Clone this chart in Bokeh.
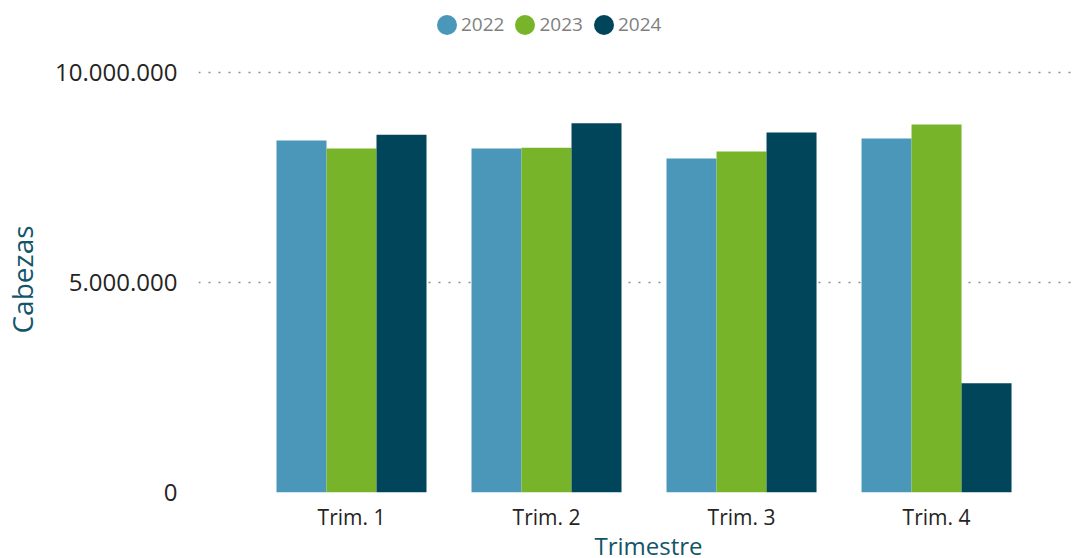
from bokeh.plotting import figure
from bokeh.layouts import column
from bokeh.models import (ColumnDataSource, Range1d, FixedTicker, Legend, LegendItem, Label)
from bokeh.transform import dodge
from bokeh.embed import file_html
from bokeh.resources import INLINE

# ---- data ----
quarters = ["Trim. 1", "Trim. 2", "Trim. 3", "Trim. 4"]
years = ["2022", "2023", "2024"]
v2022 = [8380000, 8190000, 7950000, 8430000]
v2023 = [8190000, 8210000, 8120000, 8760000]
v2024 = [8520000, 8790000, 8570000, 2600000]
y_ticks = [0, 5000000, 10000000]
y_tick_labels = ["0", "5.000.000", "10.000.000"]
x_title = "Trimestre"
y_title = "Cabezas"

colors = ["#4a97ba", "#78b42a", "#01455b"]
FONT = "Open Sans"
TITLE_COLOR = "#135568"

W = 1085
LEG_H, MAIN_H, BOT_H = 50, 484, 24

xs = list(range(len(quarters)))
src = ColumnDataSource(dict(x=xs, y2022=v2022, y2023=v2023, y2024=v2024))


def bare_figure(h):
    f = figure(width=W, height=h, output_backend="svg", toolbar_location=None,
               x_range=Range1d(0, 1), y_range=Range1d(0, 1),
               x_axis_location=None, y_axis_location=None,
               min_border_left=0, min_border_right=0, min_border_top=0,
               min_border_bottom=0)
    f.outline_line_color = None
    f.grid.visible = False
    return f


# ---- legend strip (its own ranges keep the data points out of view) ----
leg_fig = bare_figure(LEG_H)
leg_items = []
for yr, col in zip(years, colors):
    r = leg_fig.ellipse(x="x", y="y" + yr, width=20, height=20,
                        width_units="screen", height_units="screen",
                        source=src, fill_color=col, line_color=None)
    leg_items.append(LegendItem(label=yr, renderers=[r], index=0))
legend = Legend(items=leg_items, location=(236, 13), orientation="horizontal",
                glyph_width=25, glyph_height=25, label_standoff=2, spacing=8,
                padding=0, margin=0, border_line_alpha=0, background_fill_alpha=0,
                label_text_font=FONT, label_text_font_size="19px",
                label_text_color="#7f7f7f")
leg_fig.add_layout(legend, "center")

# ---- main chart ----
p = figure(width=W, height=MAIN_H, output_backend="svg", toolbar_location=None,
           x_range=Range1d(-0.7846, 3.728), y_range=Range1d(0, 10143000),
           min_border_left=198, min_border_right=7, min_border_top=16,
           min_border_bottom=42)
p.outline_line_color = None

bw = 0.2564
offs = [-bw, 0.0, bw]
for yr, col, off in zip(years, colors, offs):
    p.vbar(x=dodge("x", off, range=p.x_range), top="y" + yr, width=bw,
           source=src, fill_color=col, line_color=None)

p.xaxis.ticker = FixedTicker(ticks=xs)
p.xaxis.major_label_overrides = {i: q for i, q in zip(xs, quarters)}
p.yaxis.ticker = FixedTicker(ticks=y_ticks)
p.yaxis.major_label_overrides = {t: l for t, l in zip(y_ticks, y_tick_labels)}

for ax in (p.xaxis, p.yaxis):
    ax.axis_line_color = None
    ax.major_tick_line_color = None
    ax.minor_tick_line_color = None
    ax.major_tick_out = 0
    ax.major_tick_in = 0
    ax.major_label_text_font = FONT
    ax.major_label_text_color = "#252423"
    ax.axis_label_text_font = FONT
    ax.axis_label_text_font_style = "normal"
    ax.axis_label_text_color = TITLE_COLOR

p.yaxis.major_label_text_font_size = "24px"
p.yaxis.major_label_standoff = 21
p.yaxis.axis_label = y_title
p.yaxis.axis_label_text_font_size = "28px"
p.yaxis.axis_label_standoff = 11

p.xaxis.major_label_text_font_size = "21px"
p.xaxis.major_label_standoff = 10

p.xgrid.grid_line_color = None
p.ygrid.ticker = FixedTicker(ticks=y_ticks)
p.ygrid.grid_line_color = "#8c8c8c"
p.ygrid.grid_line_dash = "2 8"
p.ygrid.grid_line_width = 1.5

# ---- x-axis title strip ----
bot_fig = bare_figure(BOT_H)
bot_fig.add_layout(Label(x=450, y=13, x_units="screen", y_units="screen", text=x_title,
                         text_font=FONT, text_font_size="24px", text_color=TITLE_COLOR,
                         text_align="center", text_baseline="alphabetic"))

layout = column(leg_fig, p, bot_fig, spacing=0)
open("out.html", "w").write(file_html(layout, INLINE))
